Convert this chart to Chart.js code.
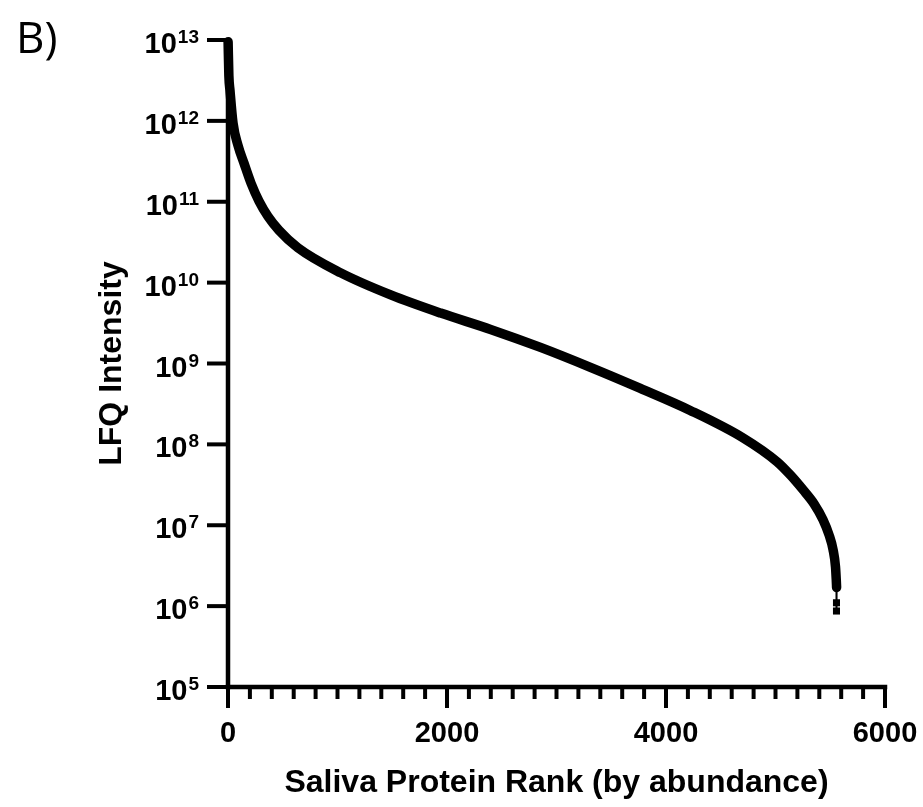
<!DOCTYPE html>
<html lang="en">
<head>
  <meta charset="UTF-8">
  <title>Saliva Protein Rank</title>
  <script src="https://cdn.jsdelivr.net/npm/chart.js"></script>
  <style>
    html, body { margin: 0; padding: 0; background: #fff; }
  </style>
</head>
<body>
  <canvas id="chart" width="923" height="807"></canvas>

  <script>
    // protein rank vs LFQ intensity
    const ranks = [1, 8, 18, 46, 91, 146, 210, 283, 365, 465, 638, 1030, 1486, 1942, 2398, 2854, 3310, 3766, 4221, 4705, 5015, 5134, 5252, 5352, 5434, 5489, 5526, 5548, 5555, 5558];
    const intensity = [9.5e12, 3.6e12, 2.4e12, 9.4e11, 5.0e11, 3.0e11, 1.7e11, 1.02e11, 6.6e10, 4.45e10, 2.7e10, 1.32e10, 7.05e9, 4.2e9, 2.64e9, 1.58e9, 8.96e8, 4.92e8, 2.63e8, 1.2e8, 6.08e7, 4.2e7, 2.74e7, 1.84e7, 1.17e7, 7.6e6, 4.97e6, 3.06e6, 2.1e6, 1.7e6];
    // last few low-abundance proteins (drawn as separate squares)
    const tailRanks = [5558, 5557, 5557];
    const tailIntensity = [1.7e6, 1.1e6, 8.7e5];

    const xTicks = [0, 2000, 4000, 6000];
    const xMinorStep = 200;
    const yExponents = [5, 6, 7, 8, 9, 10, 11, 12, 13];

    const FONT = '"Liberation Sans", Arial, sans-serif';

    const prismAxes = {
      id: 'prismAxes',
      afterDatasetsDraw(chart) {
        const { ctx, chartArea: a, scales: { x, y } } = chart;
        const line = (x1, y1, x2, y2) => {
          ctx.beginPath(); ctx.moveTo(x1, y1); ctx.lineTo(x2, y2); ctx.stroke();
        };
        ctx.save();
        ctx.strokeStyle = '#000';
        ctx.fillStyle = '#000';
        ctx.lineCap = 'square';

        // axis lines
        ctx.lineWidth = 4.5;
        line(a.left, a.top, a.left, a.bottom);
        line(a.left, a.bottom, a.right, a.bottom);

        // y ticks + labels 10^n
        ctx.lineWidth = 4;
        ctx.lineCap = 'butt';
        yExponents.forEach(e => {
          const py = y.getPixelForValue(Math.pow(10, e));
          line(a.left - 21, py, a.left, py);
          const sup = String(e);
          ctx.font = 'bold 19px ' + FONT;
          ctx.textAlign = 'right';
          ctx.textBaseline = 'alphabetic';
          const supW = ctx.measureText(sup).width;
          ctx.fillText(sup, 199, py + 3);
          ctx.font = 'bold 29px ' + FONT;
          ctx.fillText('10', 199 - supW - 1, py + 13);
        });

        // x ticks: minor every 200, major at labels
        for (let v = 0; v <= 6000; v += xMinorStep) {
          const px = x.getPixelForValue(v);
          const major = xTicks.includes(v);
          line(px, a.bottom, px, a.bottom + (major ? 21 : 12));
        }
        ctx.font = 'bold 29px ' + FONT;
        ctx.textAlign = 'center';
        xTicks.forEach(v => {
          ctx.fillText(String(v), x.getPixelForValue(v), 742);
        });

        // axis titles
        ctx.font = 'bold 32px ' + FONT;
        ctx.fillText('Saliva Protein Rank (by abundance)', (a.left + a.right) / 2, 792);
        ctx.save();
        ctx.translate(121, (a.top + a.bottom) / 2);
        ctx.rotate(-Math.PI / 2);
        ctx.fillText('LFQ Intensity', 0, 0);
        ctx.restore();

        // panel letter
        ctx.font = '44px "Open Sans", "Noto Sans", sans-serif';
        ctx.textAlign = 'left';
        ctx.fillText('B)', 16, 53);
        ctx.restore();
      }
    };

    const ctx = document.getElementById('chart').getContext('2d');
    new Chart(ctx, {
      type: 'line',
      data: {
        datasets: [
          {
            data: ranks.map((r, i) => ({ x: r, y: intensity[i] })),
            borderColor: '#000',
            borderWidth: 9.5,
            pointRadius: 0,
            cubicInterpolationMode: 'monotone',
            borderCapStyle: 'round',
            borderJoinStyle: 'round',
            clip: false
          },
          {
            data: tailRanks.map((r, i) => ({ x: r, y: tailIntensity[i] })),
            borderColor: '#000',
            borderWidth: 2,
            pointStyle: 'rect',
            pointRadius: [0, 5, 5],
            pointBackgroundColor: '#000',
            pointBorderWidth: 0,
            clip: false
          }
        ]
      },
      options: {
        responsive: false,
        animation: false,
        events: [],
        layout: { padding: { top: 40, right: 38, left: 0, bottom: 0 } },
        plugins: { legend: { display: false }, tooltip: { enabled: false } },
        scales: {
          x: {
            type: 'linear', min: 0, max: 6000,
            grid: { display: false }, border: { display: false }, ticks: { display: false },
            afterFit(s) { s.height = 120; }
          },
          y: {
            type: 'logarithmic', min: 1e5, max: 1e13,
            grid: { display: false }, border: { display: false }, ticks: { display: false },
            afterFit(s) { s.width = 228; }
          }
        }
      },
      plugins: [prismAxes]
    });
  </script>
</body>
</html>
